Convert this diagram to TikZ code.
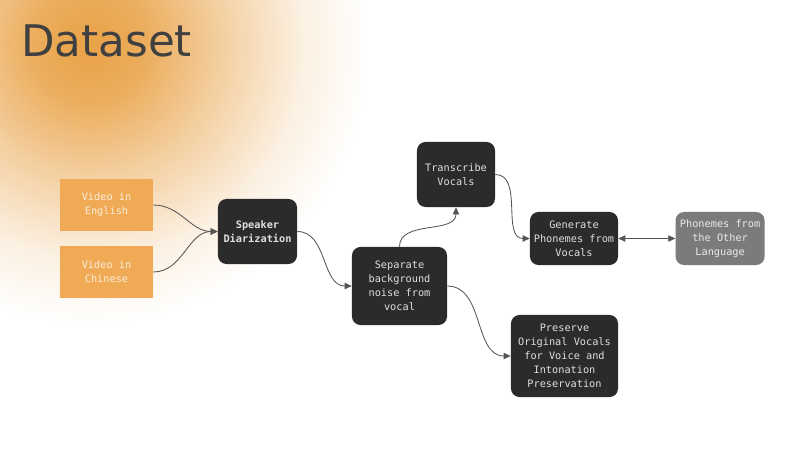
\documentclass[tikz,border=0pt]{standalone}
\usepackage{fontspec}
\usepackage{xcolor}
\usepackage{tikz}
\usetikzlibrary{arrows.meta,positioning}
\newfontfamily\boxfont{DejaVu Sans Mono}
\newfontfamily\titlefont{DejaVu Sans}
\definecolor{boxdark}{HTML}{2B2B2B}
\definecolor{boxorange}{HTML}{F0AA55}
\definecolor{boxgray}{HTML}{7B7B7B}
\definecolor{glowC}{HTML}{E9A247}
\definecolor{linkC}{HTML}{555555}
\pgfdeclareradialshading{glow}{\pgfpoint{0bp}{0bp}}{color(0bp)=(glowC); color(5bp)=(glowC!88!white); color(12bp)=(glowC!50!white); color(19bp)=(glowC!16!white); color(25bp)=(white); color(50bp)=(white)}

\begin{document}
\begin{tikzpicture}[
  x=0.025cm, y=-0.025cm,
  font=\boxfont\fontsize{7.3}{9.9}\selectfont,
  src/.style={rectangle, fill=boxorange, text=white!80!boxorange, align=center,
              minimum width=2.325cm, minimum height=1.31cm, inner sep=2pt},
  stepbox/.style={rectangle, rounded corners=6pt, fill=boxdark, text=white!88!black,
              align=center, inner sep=2pt},
  other/.style={stepbox, fill=boxgray, text=white!85!boxgray},
  link/.style={draw=linkC, line width=0.6pt, -{Triangle[length=5pt,width=4.5pt]}},
]
\useasboundingbox (0,0) rectangle (806,453);
% orange glow behind the title
\begin{scope}
  \clip (0,0) rectangle (806,453);
  \shade[shading=glow] (90,45) circle (280);
\end{scope}
\node[anchor=base west, text=black!75, inner sep=0pt,
      font=\titlefont\fontsize{31}{36}\selectfont] (title) at (21,57) {Dataset};
% sources
\node[src] (eng) at (106.5,205) {Video in\\English};
\node[src, below=0.35cm of eng] (chi) {Video in\\Chinese};
% main chain
\node[stepbox, minimum width=1.975cm, minimum height=1.625cm, font=\boxfont\bfseries\fontsize{7.3}{9.9}\selectfont] (diar) at (257.5,231.5) {Speaker\\Diarization};
\node[stepbox, minimum width=2.375cm, minimum height=1.95cm] (sep) at (399.5,286) {Separate\\background\\noise from\\vocal};
\node[stepbox, minimum width=1.95cm, minimum height=1.625cm] (trans) at (456,174.5) {Transcribe\\Vocals};
\node[stepbox, minimum width=2.2cm, minimum height=1.325cm] (gen) at (574,238.5) {Generate\\Phonemes from\\Vocals};
\node[other, minimum width=2.225cm, minimum height=1.325cm, right=1.425cm of gen] (oth) {Phonemes from\\the Other\\Language};
\node[stepbox, minimum width=2.675cm, minimum height=2.05cm] (pres) at (564.5,356) {Preserve\\Original Vocals\\for Voice and\\Intonation\\Preservation};
% connectors
\draw[link] (eng.east) to[out=0,in=180] (diar.west);
\draw[link] (chi.east) to[out=0,in=180] (diar.west);
\draw[link] (diar.east) to[out=0,in=180] (sep.west);
\draw[link] (sep.north) to[out=90,in=-90] (trans.south);
\draw[link] (trans.east) to[out=0,in=180] (gen.west);
\draw[link, {Triangle[length=5pt,width=4.5pt]}-{Triangle[length=5pt,width=4.5pt]}] (gen) -- (oth);
\draw[link] (sep.east) to[out=0,in=180] (pres.west);
\end{tikzpicture}
\end{document}
